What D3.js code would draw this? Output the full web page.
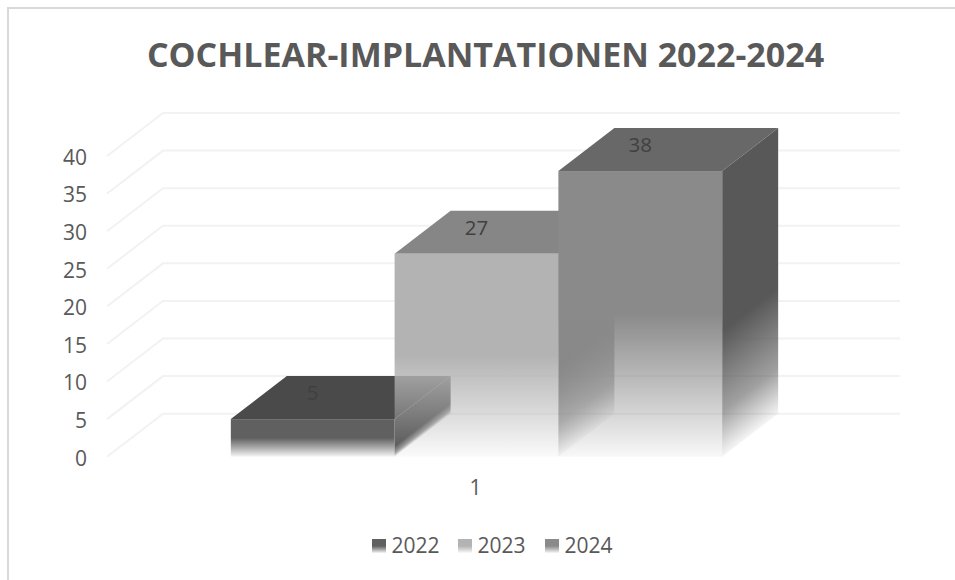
<!DOCTYPE html>
<html>
<head>
  <title>Cochlear-Implantationen 2022-2024</title>
  <style>
    body {
      margin: 0;
      background: #fff;
      overflow: hidden;
    }

    svg text {
      font-family: "Open Sans", sans-serif;
      fill: #595959;
    }

    .title {
      font-size: 34px;
      font-weight: bold;
    }

    .axis text {
      font-size: 21px;
    }

    .axis .domain {
      display: none;
    }

    .label {
      font-size: 20.5px;
      fill: #404040 !important;
    }
  </style>
</head>
<body>
  <div id="chart"></div>

  <script src="https://d3js.org/d3.v7.min.js"></script>
  <script>
    const titleText = "COCHLEAR-IMPLANTATIONEN 2022-2024";
    const categories = ["1"];
    const seriesNames = ["2022", "2023", "2024"];
    const seriesValues = [5, 27, 38];
    const yTicks = [0, 5, 10, 15, 20, 25, 30, 35, 40];
    const frontColors = ["#606060", "#b3b3b3", "#8a8a8a"];
    const topColors = ["#4a4a4a", "#868686", "#686868"];
    const sideColors = ["#4c4c4c", "#858585", "#585858"];
    const sideFadeStart = [0.72, 0.56, 0.56];

    const width = 955;
    const height = 580;

    // Depth of the 3D floor, front edge to back wall
    const depthX = 56;
    const depthY = -43;

    const svg = d3.select("#chart")
      .append("svg")
      .attr("width", width)
      .attr("height", height);

    const defs = svg.append("defs");

    // Set up scales (they describe the front plane of the chart)
    const xScale = d3.scaleBand()
      .domain(categories)
      .range([107, 844]);

    const seriesScale = d3.scaleBand()
      .domain(seriesNames)
      .range([108, 845])
      .paddingInner(0)
      .paddingOuter(0.75);

    const yScale = d3.scaleLinear()
      .domain([0, 40])
      .range([456.7, 156]);

    // Chart frame, only top and left are visible
    svg.append("path")
      .attr("d", "M8,580V8H955")
      .attr("fill", "none")
      .attr("stroke", "#d9d9d9")
      .attr("stroke-width", 2);

    svg.append("text")
      .attr("class", "title")
      .attr("x", 485.5)
      .attr("y", 67)
      .attr("text-anchor", "middle")
      .text(titleText);

    // Gridlines run along the floor side and then the back wall
    svg.append("g")
      .selectAll("path")
      .data(yTicks)
      .enter()
      .append("path")
      .attr("d", d => {
        const x0 = xScale.range()[0];
        const x1 = xScale.range()[1];
        const y = yScale(d);
        return "M" + x0 + "," + y + "L" + (x0 + depthX) + "," + (y + depthY) + "H" + (x1 + depthX);
      })
      .attr("fill", "none")
      .attr("stroke", "#f2f2f2")
      .attr("stroke-width", 2);

    svg.append("g")
      .attr("class", "axis")
      .attr("transform", "translate(96,0)")
      .call(d3.axisLeft(yScale).tickValues(yTicks).tickSize(0).tickPadding(9))
      .call(g => g.selectAll("text").attr("dy", "0.4em"));

    // Fade: solid down to "start", then transparent towards the floor
    function fadeStops(gradient, color, start, mid, midOpacity) {
      gradient.append("stop").attr("offset", 0).attr("stop-color", color).attr("stop-opacity", 1);
      gradient.append("stop").attr("offset", start).attr("stop-color", color).attr("stop-opacity", 1);
      gradient.append("stop").attr("offset", mid).attr("stop-color", color).attr("stop-opacity", midOpacity);
      gradient.append("stop").attr("offset", 1).attr("stop-color", color).attr("stop-opacity", 0.06);
    }

    seriesNames.forEach((name, i) => {
      fadeStops(defs.append("linearGradient")
        .attr("id", "front" + name)
        .attr("x1", 0).attr("y1", 0)
        .attr("x2", 0).attr("y2", 1), frontColors[i], 0.5, 0.75, 0.55);

      // Side fade runs square to the slanted top edge of the side face
      const x = seriesScale(name) + seriesScale.bandwidth();
      const h = yScale(0) - yScale(seriesValues[i]);
      const len = depthX * depthX + depthY * depthY;
      const start = sideFadeStart[i];
      fadeStops(defs.append("linearGradient")
        .attr("id", "side" + name)
        .attr("gradientUnits", "userSpaceOnUse")
        .attr("x1", x).attr("y1", yScale(seriesValues[i]))
        .attr("x2", x - depthY * depthX / len * h)
        .attr("y2", yScale(seriesValues[i]) + depthX * depthX / len * h), sideColors[i], start, 1 - (1 - start) * 0.36, 0.57);
    });

    // Create the bars, later series paint over the earlier ones
    const bars = svg.selectAll(".bar")
      .data(seriesNames)
      .enter()
      .append("g")
      .attr("class", "bar");

    bars.append("path")
      .attr("d", (d, i) => {
        const x = seriesScale(d);
        const w = seriesScale.bandwidth();
        const y = yScale(seriesValues[i]);
        return "M" + x + "," + y + "h" + w + "l" + depthX + "," + depthY + "h" + (-w) + "Z";
      })
      .attr("fill", (d, i) => topColors[i]);

    bars.append("path")
      .attr("d", (d, i) => {
        const x = seriesScale(d) + seriesScale.bandwidth();
        const y = yScale(seriesValues[i]);
        return "M" + x + "," + y + "l" + depthX + "," + depthY + "V" + (yScale(0) + depthY) + "L" + x + "," + yScale(0) + "Z";
      })
      .attr("fill", d => "url(#side" + d + ")");

    bars.append("rect")
      .attr("x", d => seriesScale(d))
      .attr("y", (d, i) => yScale(seriesValues[i]))
      .attr("width", seriesScale.bandwidth())
      .attr("height", (d, i) => yScale(0) - yScale(seriesValues[i]))
      .attr("fill", d => "url(#front" + d + ")");

    // Value labels sit on the top face
    svg.selectAll(".label")
      .data(seriesNames)
      .enter()
      .append("text")
      .attr("class", "label")
      .attr("x", d => seriesScale(d) + seriesScale.bandwidth() / 2)
      .attr("y", (d, i) => yScale(seriesValues[i]) - 19)
      .attr("text-anchor", "middle")
      .text((d, i) => seriesValues[i]);

    // Category label
    svg.append("text")
      .attr("x", xScale("1") + xScale.bandwidth() / 2)
      .attr("y", 494.5)
      .attr("text-anchor", "middle")
      .style("font-size", "21px")
      .text(categories[0]);

    // Legend
    const legendX = [372, 458, 545];
    const legend = svg.selectAll(".legend")
      .data(seriesNames)
      .enter()
      .append("g")
      .attr("class", "legend")
      .attr("transform", (d, i) => "translate(" + legendX[i] + ",539)");

    legend.append("rect")
      .attr("width", 14)
      .attr("height", 14)
      .attr("fill", d => "url(#front" + d + ")");

    legend.append("text")
      .attr("x", 19.5)
      .attr("y", 14)
      .style("font-size", "21px")
      .text(d => d);
  </script>
</body>
</html>
